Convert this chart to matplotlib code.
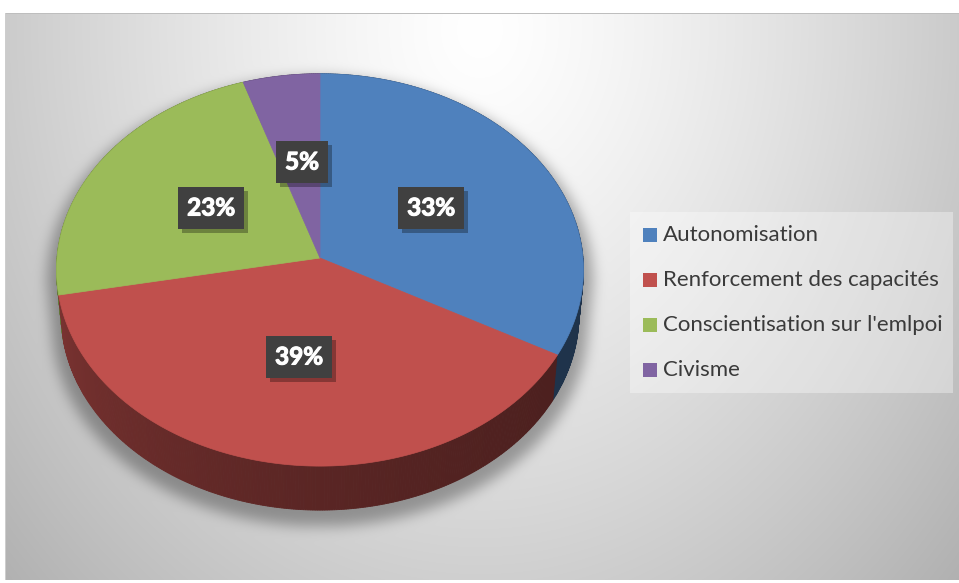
import numpy as np
import matplotlib.pyplot as plt
import matplotlib.patheffects as pe
from matplotlib.colors import to_rgb
from matplotlib.patches import Polygon, Rectangle
from matplotlib.path import Path

labels = ["Autonomisation", "Renforcement des capacités",
          "Conscientisation sur l'emlpoi", "Civisme"]
shares = [33, 39, 23, 5]
colors = ["#4f81bd", "#c0504d", "#9bbb59", "#8064a2"]
# where Excel put the percentage boxes (pixels)
label_xy = [(431, 208), (299, 357), (211, 208), (302, 162)]

W, H = 959, 583
cx, cy = 320, 258          # projected pie centre
scale = 263
dist = 11.0
elev = np.radians(48)
depth_z = 0.26


def project(phi, r=1.0, z=0.0):
    x = r * np.cos(phi)
    y = r * np.sin(phi)
    d = dist + y * np.cos(elev) - z * np.sin(elev)
    up = y * np.sin(elev) + z * np.cos(elev)
    return cx + scale * x * dist / d, cy - scale * up * dist / d


def box_blur(img, r):
    for axis in (0, 1):
        pad = [(0, 0), (0, 0)]
        pad[axis] = (r + 1, r)
        p = np.pad(img, pad, mode="edge")
        c = np.cumsum(p, axis=axis)
        if axis == 0:
            img = (c[2 * r + 1:] - c[:-2 * r - 1]) / (2 * r + 1)
        else:
            img = (c[:, 2 * r + 1:] - c[:, :-2 * r - 1]) / (2 * r + 1)
    return img


# ---- background: radial grey gradient + soft shadow under the pie
yy, xx = np.mgrid[0:H, 0:W] + 0.5
dd = np.sqrt(((xx - 480) / 560) ** 2 + ((yy - 30) / 690) ** 2)
bg = 255 - 64 * np.clip(dd, 0, 1.2) ** 1.3

phis = np.radians(np.linspace(0, 360, 361))
pts = np.column_stack([xx.ravel(), yy.ravel()])
sil = np.zeros(H * W, bool)
for z in np.linspace(0, -depth_z, 6):
    px, py = project(phis, 1.0, z)
    px = cx + (px - cx) * 1.035
    py = 300 + (py - 300) * 1.03 + 10
    sil |= Path(np.column_stack([px, py])).contains_points(pts)
sh = sil.reshape(H, W).astype(float)
for _ in range(3):
    sh = box_blur(sh, 6)
bg = bg * (1 - 0.32 * sh)

bg[:13, :] = 255
bg[:, :5] = 255
bg[580:, :] = 255
bg[13, 5:] = 190
bg[13:580, 5] = 205
img = np.dstack([bg, bg, bg]) / 255

fig = plt.figure(figsize=(W / 100, H / 100), dpi=100)
ax = fig.add_axes([0, 0, 1, 1])
ax.set_xlim(0, W)
ax.set_ylim(H, 0)
ax.axis("off")
ax.imshow(np.clip(img, 0, 1), extent=(0, W, H, 0), origin="upper",
          interpolation="bilinear", zorder=0)

# ---- slice boundaries (clockwise from 12 o'clock)
cum = np.concatenate([[0], np.cumsum(shares)]) / np.sum(shares)
bounds = np.radians(90 - 360 * cum)

# ---- side wall, drawn as thin shaded strips, far ones first
step = np.radians(0.5)
seg = np.arange(0, 2 * np.pi, step)
order = np.argsort(-np.sin(seg + step / 2))
for k in order:
    a0, a1 = seg[k], seg[k] + step
    mid = (a0 + a1) / 2
    frac = ((np.pi / 2 - mid) % (2 * np.pi)) / (2 * np.pi)
    i = min(np.searchsorted(cum, frac) - 1, len(shares) - 1)
    t = (1 + np.cos(mid)) / 2      # 0 on the left, 1 on the right
    col = np.array(to_rgb(colors[i])) * (0.66 - 0.27 * np.sqrt(t))
    x0, y0 = project(a0)
    x1, y1 = project(a1)
    x2, y2 = project(a1, 1.0, -depth_z)
    x3, y3 = project(a0, 1.0, -depth_z)
    ax.add_patch(Polygon([(x0, y0), (x1, y1), (x2, y2), (x3, y3)],
                         closed=True, fc=col, ec=col, lw=0.6, zorder=2))

# ---- top face
for i in range(len(shares)):
    arc = np.linspace(bounds[i], bounds[i + 1], 200)
    ax_, ay_ = project(arc)
    poly = np.column_stack([np.r_[cx, ax_], np.r_[cy, ay_]])
    ax.add_patch(Polygon(poly, closed=True, fc=colors[i], ec=colors[i],
                         lw=0.5, zorder=3))

# ---- percentage boxes
for (lx, ly), s in zip(label_xy, shares):
    t = ax.text(lx, ly, f"{s}%", fontsize=17.5, fontweight="bold",
                family="Lato", color="white", ha="center", va="center",
                bbox=dict(boxstyle="square,pad=0.38", fc="#404040",
                          ec="none"), zorder=5)
    t.set_path_effects([pe.withStroke(linewidth=0.8, foreground="white")])
    t.get_bbox_patch().set_path_effects(
        [pe.SimplePatchShadow(offset=(3, -3), shadow_rgbFace="black",
                              alpha=0.3), pe.Normal()])

# ---- legend
ax.add_patch(Rectangle((630, 212), 323, 181, fc=(1, 1, 1, 0.35), ec="none",
                       zorder=1))
for j, (lab, c) in enumerate(zip(labels, colors)):
    ry = 235 + j * 45
    ax.add_patch(Rectangle((643, ry - 7), 14, 14, fc=c, ec="none", zorder=5))
    ax.text(663, ry, lab, fontsize=16, family="Lato", color="#3a3a3a",
            ha="left", va="center", zorder=5)

fig.savefig("out.png", dpi=100)
